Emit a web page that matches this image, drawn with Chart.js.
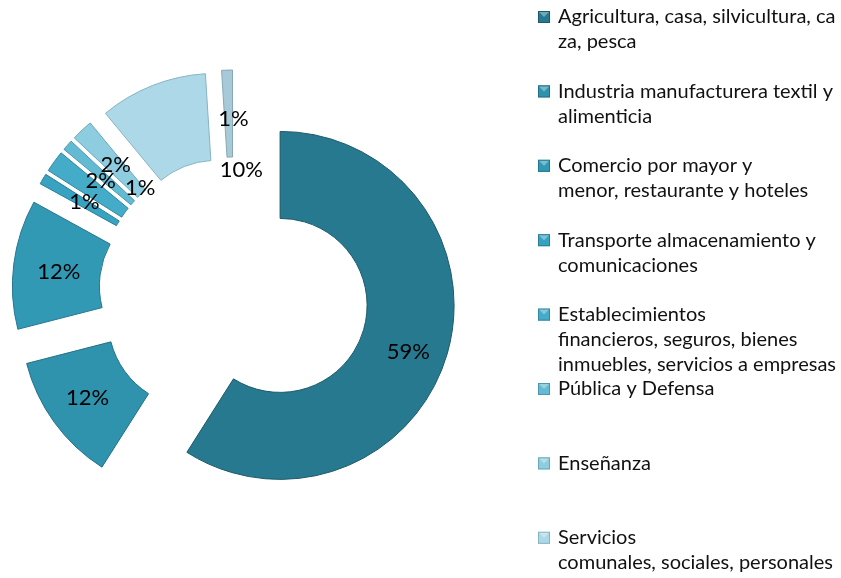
<!DOCTYPE html>
<html>
<head>
<meta charset="utf-8">
<title>PBI por sectores</title>
<script src="https://cdn.jsdelivr.net/npm/chart.js@4.4.1/dist/chart.umd.min.js"></script>
<style>
  html, body { margin: 0; padding: 0; background: #fff; }
  #chart-box { width: 841px; height: 578px; }
</style>
</head>
<body>
<div id="chart-box"><canvas id="my-chart" width="841" height="578"></canvas></div>
<script>
'use strict';

//**************DATA********** */
// legend text, broken into lines the same way as the original
let sectorNames = [
  ['Agricultura, casa, silvicultura, ca', 'za, pesca'],
  ['Industria manufacturera textil y', 'alimenticia'],
  ['Comercio por mayor y', 'menor, restaurante y hoteles'],
  ['Transporte almacenamiento y', 'comunicaciones'],
  ['Establecimientos', 'financieros, seguros, bienes', 'inmuebles, servicios a empresas'],
  ['Pública y Defensa'],
  ['Enseñanza'],
  ['Servicios', 'comunales, sociales, personales'],
  ['Otros']
];
let sectorShares = [59, 12, 12, 1, 2, 1, 2, 10, 1];

//**************STYLE********** */
let sectorColors = ['#27798f', '#2f93ad', '#3299b5', '#37a3c0', '#44abc8', '#62bad3', '#8ecde0', '#acd8e7', '#a8cad8'];
let sectorBorders = ['#1c5a6b', '#237086', '#247690', '#2a7f98', '#3488a0', '#4b97ad', '#6aa8ba', '#86b3c3', '#86a8b6'];

const EXPLODE = 48; // how far every slice is pulled out from the centre
const labelFont = '22px Lato';
const legendFont = '20px Lato';

//*************EXPLODED SLICES********* */
// push every arc out along its own bisector (Chart.js offset also grows the radius)
let baseArcDraw = Chart.ArcElement.prototype.draw;
Chart.ArcElement.prototype.draw = function (ctx) {
  let mid = (this.startAngle + this.endAngle) / 2;
  ctx.save();
  ctx.translate(Math.cos(mid) * EXPLODE, Math.sin(mid) * EXPLODE);
  baseArcDraw.call(this, ctx);
  ctx.restore();
};

//*************PERCENT LABELS********* */
let pctLabels = {
  id: 'pctLabels',
  afterDatasetsDraw(chart, args, opts) {
    let ctx = chart.ctx;
    let meta = chart.getDatasetMeta(0);
    let total = sectorShares.reduce((a, b) => a + b, 0);
    ctx.save();
    ctx.font = labelFont;
    ctx.fillStyle = '#000';
    ctx.textAlign = 'center';
    ctx.textBaseline = 'middle';
    meta.data.forEach((arc, i) => {
      let mid = (arc.startAngle + arc.endAngle) / 2;
      let r = (arc.innerRadius + arc.outerRadius) / 2 + EXPLODE;
      let nudge = opts.nudge[i] || [0, 0];
      let x = arc.x + Math.cos(mid) * r + nudge[0];
      let y = arc.y + Math.sin(mid) * r + nudge[1];
      ctx.fillText(Math.round(sectorShares[i] / total * 100) + '%', x, y);
    });
    ctx.restore();
  }
};

//*************LEGEND********* */
// fixed slot for every entry, like the original, text lines stacked inside it
let sideLegend = {
  id: 'sideLegend',
  afterDraw(chart, args, opts) {
    let ctx = chart.ctx;
    ctx.save();
    ctx.font = legendFont;
    ctx.textBaseline = 'middle';
    ctx.textAlign = 'left';
    for (let i = 0; i < sectorNames.length; i++) {
      let top = opts.top + i * opts.pitch;
      if (top > chart.height) break;
      // marker
      ctx.fillStyle = sectorColors[i];
      ctx.fillRect(opts.x, top - 6, 12, 12);
      ctx.strokeStyle = sectorBorders[i];
      ctx.lineWidth = 1;
      ctx.strokeRect(opts.x + 0.5, top - 5.5, 11, 11);
      ctx.fillStyle = 'rgba(255,255,255,0.35)';
      ctx.beginPath();
      ctx.moveTo(opts.x + 1, top - 5);
      ctx.lineTo(opts.x + 11, top - 5);
      ctx.lineTo(opts.x + 6, top);
      ctx.closePath();
      ctx.fill();
      // text
      ctx.fillStyle = '#111';
      sectorNames[i].forEach((line, j) => {
        ctx.fillText(line, opts.x + 20, top + j * opts.lineHeight);
      });
    }
    ctx.restore();
  }
};

//*************CHART********* */
let ctx = document.getElementById('my-chart');

let chartObj = {
  type: 'doughnut',
  data: {
    labels: sectorNames.map(n => n.join(' ')),
    datasets: [{
      data: sectorShares,
      backgroundColor: sectorColors,
      borderColor: sectorBorders,
      borderWidth: 1
    }]
  },
  options: {
    responsive: false,
    animation: false,
    radius: 174,
    cutout: '50%',
    layout: {
      padding: { left: 0, right: 373, top: 6, bottom: 0 }
    },
    plugins: {
      legend: { display: false },
      tooltip: { enabled: false },
      pctLabels: {
        nudge: [[3, 10], [-2, 1], [2, 2], [4, 1], [11, -6], [40, 14], [4, 3], [73, 44], [5, 5]]
      },
      sideLegend: { x: 538, top: 17, pitch: 74.4, lineHeight: 25 }
    }
  },
  plugins: [pctLabels, sideLegend]
};

new Chart(ctx, chartObj);
</script>
</body>
</html>
